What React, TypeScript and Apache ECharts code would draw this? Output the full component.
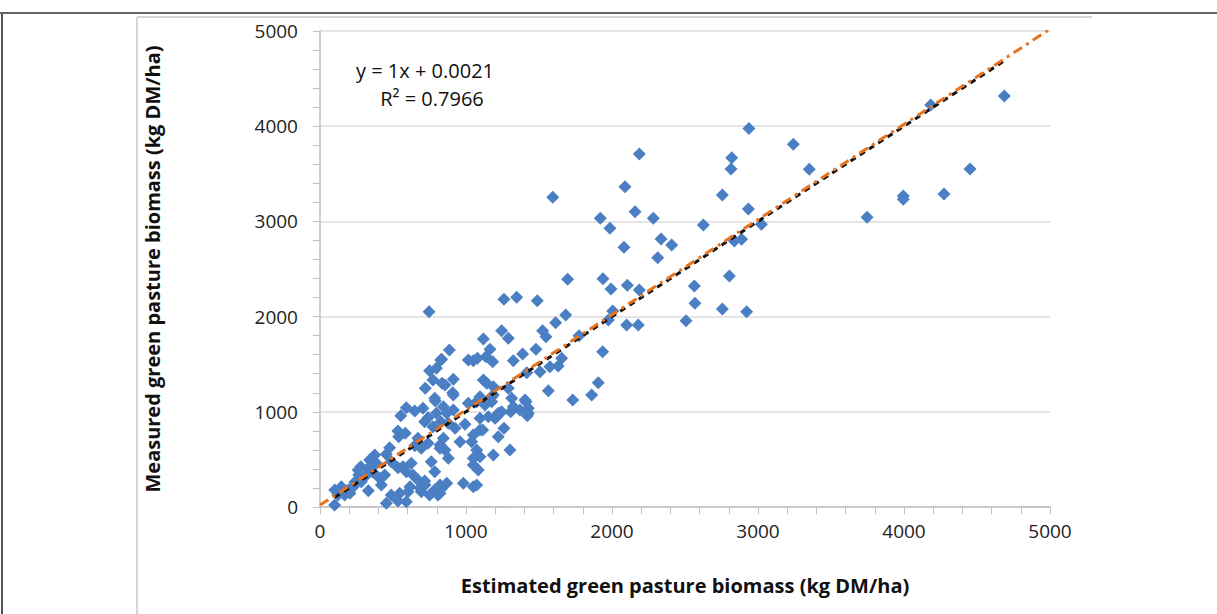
import React, { useEffect, useRef } from "react";
import * as echarts from "echarts";

const xTicks = [0, 1000, 2000, 3000, 4000, 5000];
const yTicks = [0, 1000, 2000, 3000, 4000, 5000];

const estimatedUpper = [4687, 4183, 2938, 3242, 3351, 4452, 4274, 3995, 3995, 3747, 2187, 2820, 2815, 2089, 1594, 2756, 2934, 1920, 2158, 2283, 1986, 2626, 3023, 2336, 2409, 2082, 2313, 2838, 2888, 2804, 1696, 1938, 1993, 2105, 2187, 2564, 2568, 2756, 2922, 1614, 1683, 2005, 1975, 2100, 2180, 2507];
const measuredUpper = [4317, 4223, 3975, 3810, 3547, 3550, 3288, 3267, 3232, 3043, 3708, 3669, 3550, 3365, 3253, 3277, 3130, 3032, 3102, 3032, 2927, 2962, 2969, 2815, 2752, 2728, 2619, 2794, 2812, 2426, 2392, 2398, 2290, 2329, 2279, 2321, 2140, 2080, 2052, 1936, 2017, 2059, 1964, 1912, 1912, 1957];

const estimatedMiddle = [1260, 1347, 1488, 1119, 1244, 1290, 1164, 1137, 1183, 1324, 1388, 1479, 1525, 1548, 1774, 1655, 1632, 1575, 1507, 1416, 1936, 1906, 1861, 1731, 1564, 1119, 1142, 1313, 1324, 1411, 1427, 1306, 1199, 1221, 1130, 1096, 1176, 1114, 1260, 1221, 886, 833, 1016, 1050, 1078, 913, 856, 909, 1187, 1290, 747, 827, 797, 751, 774, 721, 786, 836];
const measuredMiddle = [2182, 2203, 2167, 1765, 1852, 1772, 1657, 1579, 1526, 1537, 1607, 1657, 1852, 1789, 1800, 1562, 1481, 1474, 1421, 1411, 1632, 1306, 1176, 1124, 1222, 1334, 1299, 1142, 1054, 1106, 984, 1001, 932, 984, 1071, 1159, 1159, 809, 827, 738, 1649, 1551, 1544, 1537, 1562, 1341, 1282, 1201, 1264, 1247, 2052, 1544, 1457, 1432, 1334, 1247, 1142, 1299];

const estimatedLower = [913, 1016, 1073, 1176, 1187, 1329, 1404, 1427, 1420, 1370, 845, 868, 913, 879, 993, 925, 1096, 1153, 1244, 1210, 1301, 1187, 845, 822, 959, 1039, 1050, 1096, 822, 856, 879, 1073, 1096, 1050, 1050, 1084, 868, 982, 1050, 1073, 822, 822, 790, 705, 649, 591, 553, 740, 797, 827, 774, 717, 534, 584, 539, 671, 649, 694, 740, 477, 454, 375, 386, 340, 488, 534, 568, 625, 591, 637, 671, 717, 786, 762, 279, 324, 265, 363, 283, 238, 409, 420, 443, 146, 192, 169, 123, 101, 100, 454, 488, 534, 591, 546, 603, 694, 751, 786, 808, 831, 616, 685, 719, 205, 228, 262, 354, 308, 331];
const measuredLower = [1176, 1089, 1106, 1106, 1176, 1037, 1124, 1037, 959, 1019, 1054, 984, 1019, 879, 869, 827, 932, 949, 1001, 949, 599, 546, 721, 651, 686, 686, 756, 809, 617, 599, 512, 599, 528, 512, 441, 389, 249, 249, 213, 231, 231, 144, 1113, 1037, 1008, 1043, 959, 938, 984, 896, 843, 896, 798, 774, 738, 721, 644, 617, 669, 623, 554, 546, 459, 494, 476, 413, 423, 459, 371, 336, 284, 273, 371, 476, 423, 399, 336, 364, 266, 259, 301, 231, 336, 213, 179, 126, 126, 179, 20, 39, 126, 63, 56, 144, 161, 161, 126, 179, 126, 189, 213, 196, 231, 144, 213, 389, 423, 318, 171];

const regressionX = [100, 4690];
const oneToOneX = [0, 5000];
const slope = 1;
const intercept = 0.0021;

export default function App() {
  const ref = useRef<HTMLDivElement>(null);
  useEffect(() => {
    if (!ref.current) return;
    const chart = echarts.init(ref.current, null, { renderer: "svg" });
    const pts: number[][] = [];
    const ex = [...estimatedUpper, ...estimatedMiddle, ...estimatedLower];
    const my = [...measuredUpper, ...measuredMiddle, ...measuredLower];
    for (let i = 0; i < ex.length; i++) pts.push([ex[i], my[i]]);
    const font = "'Open Sans', 'Noto Sans', sans-serif";
    chart.setOption({
      animation: false,
      backgroundColor: "#fff",
      grid: { left: 320, right: 167, top: 31, bottom: 107, containLabel: false },
      xAxis: {
        type: "value",
        min: xTicks[0],
        max: xTicks[xTicks.length - 1],
        interval: 1000,
        name: "Estimated green pasture biomass (kg DM/ha)",
        nameLocation: "middle",
        nameGap: 68,
        nameTextStyle: { fontFamily: font, fontWeight: "bold", fontSize: 20, color: "#111", letterSpacing: -0.4 },
        axisLine: { lineStyle: { color: "#c0c0c0", width: 1.5 } },
        axisTick: { show: true, length: 7, lineStyle: { color: "#c0c0c0" } },
        minorTick: { show: true, splitNumber: 5, length: 7, lineStyle: { color: "#c0c0c0" } },
        splitLine: { show: false },
        axisLabel: { fontFamily: font, fontSize: 19, color: "#222", margin: 14, formatter: (v: number) => String(v) },
      },
      yAxis: {
        type: "value",
        min: yTicks[0],
        max: yTicks[yTicks.length - 1],
        interval: 1000,
        name: "Measured green pasture biomass (kg DM/ha)",
        nameLocation: "middle",
        nameGap: 158,
        nameTextStyle: { fontFamily: font, fontWeight: "bold", fontSize: 20, color: "#111", letterSpacing: -0.4 },
        axisLine: { show: true, lineStyle: { color: "#c0c0c0", width: 1.5 } },
        axisTick: { show: true, length: 7, lineStyle: { color: "#c0c0c0" } },
        minorTick: { show: true, splitNumber: 5, length: 7, lineStyle: { color: "#c0c0c0" } },
        splitLine: { show: true, lineStyle: { color: "#dcdcdc", width: 1.5 } },
        axisLabel: { fontFamily: font, fontSize: 19, color: "#222", margin: 22, formatter: (v: number) => String(v) },
      },
      series: [
        {
          type: "scatter",
          data: pts,
          symbol: "diamond",
          symbolSize: 13,
          itemStyle: { color: "#4a7fc4", opacity: 1 },
          z: 2,
        },
        {
          type: "line",
          data: regressionX.map((x) => [x, slope * x + intercept]),
          symbol: "none",
          lineStyle: { color: "#111", width: 3, type: [6, 5] },
          z: 3,
        },
        {
          type: "line",
          data: oneToOneX.map((x) => [x, x + 20]),
          symbol: "none",
          lineStyle: { color: "#e8731f", width: 3, type: [10, 5, 3, 5] },
          z: 4,
        },
      ],
      graphic: [
        { type: "line", shape: { x1: 0, y1: 13, x2: 1217, y2: 13 }, style: { stroke: "#666", lineWidth: 2 } },
        { type: "line", shape: { x1: 2, y1: 13, x2: 2, y2: 614 }, style: { stroke: "#555", lineWidth: 2 } },
        { type: "line", shape: { x1: 137, y1: 17, x2: 137, y2: 614 }, style: { stroke: "#c8c8c8", lineWidth: 1.5 } },
        { type: "line", shape: { x1: 137, y1: 17, x2: 1092, y2: 17 }, style: { stroke: "#c8c8c8", lineWidth: 1.5 } },
        {
          type: "text",
          x: 425,
          y: 70,
          style: { text: "y = 1x + 0.0021", fontFamily: font, fontSize: 20, fill: "#111", align: "center", verticalAlign: "middle" },
        },
        {
          type: "text",
          x: 432,
          y: 98,
          style: { text: "R² = 0.7966", fontFamily: font, fontSize: 20, fill: "#111", align: "center", verticalAlign: "middle" },
        },
      ],
    });
    return () => chart.dispose();
  }, []);
  return <div ref={ref} style={{ position: "fixed", left: 0, top: 0, width: 1217, height: 614 }} />;
}
